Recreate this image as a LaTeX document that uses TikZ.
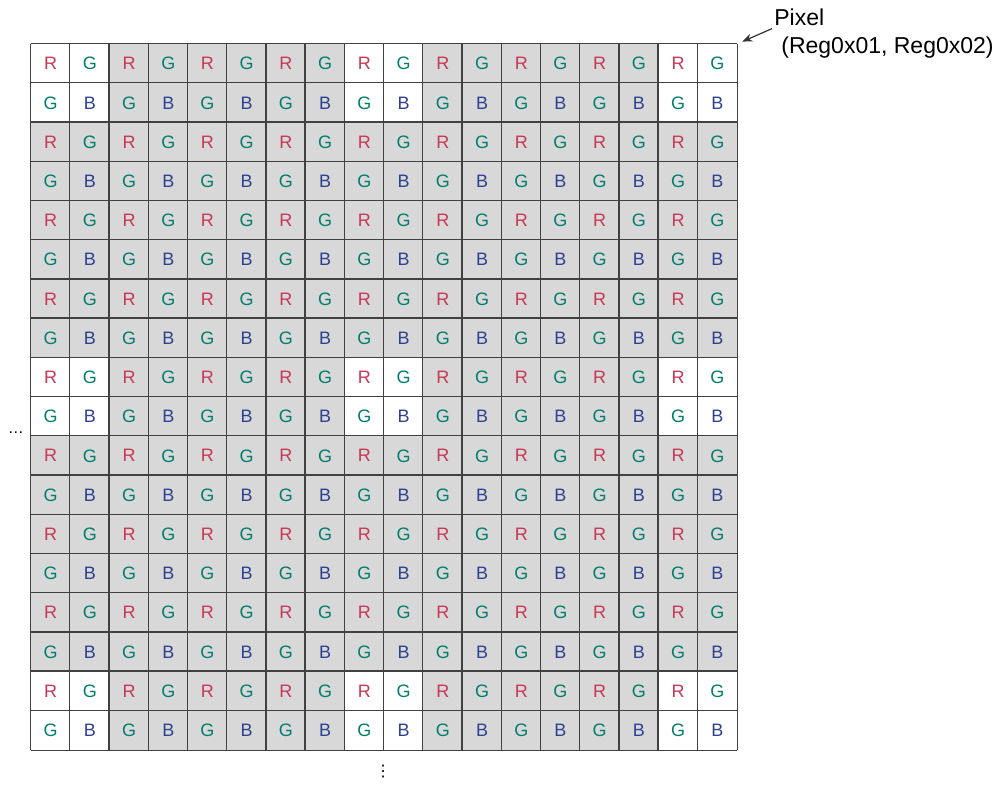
\documentclass[tikz,border=0pt]{standalone}
\usepackage{fontspec}
\setmainfont{Liberation Sans}
\newfontfamily\symfont{DejaVu Sans}
\usetikzlibrary{arrows.meta,positioning,calc}
\definecolor{chR}{RGB}{200,55,85}
\definecolor{chG}{RGB}{0,125,110}
\definecolor{chB}{RGB}{45,65,145}
\definecolor{cFill}{RGB}{216,216,216}
\definecolor{cLine}{RGB}{65,65,65}
\tikzset{
  px/.style={minimum size=19.61pt, inner sep=0pt, font=\fontsize{9}{10}\selectfont},
  gridline/.style={draw=cLine, line width=0.65pt},
  lbl/.style={inner sep=0pt, font=\fontsize{11.5}{14}\selectfont},
  ar/.style={-{Stealth[length=5pt,width=4pt]}, draw=black!80, line width=0.6pt},
}

\begin{document}
\begin{tikzpicture}[x=0.5pt,y=-0.5pt]
\useasboundingbox (0,0) rectangle (1003,785);

% bayer mosaic, 18x18 pixels
\foreach \r in {0,...,17}{
  \foreach \c in {0,...,17}{
    \pgfmathtruncatemacro{\rowm}{mod(\r,8)}
    \pgfmathtruncatemacro{\colm}{mod(\c,8)}
    \pgfmathtruncatemacro{\rowp}{mod(\r,2)}
    \pgfmathtruncatemacro{\colp}{mod(\c,2)}
    \ifnum\rowp=1
      \ifnum\colp=1 \def\ch{B}\else \def\ch{G}\fi
    \else
      \ifnum\colp=1 \def\ch{G}\else \def\ch{R}\fi
    \fi
    \def\bg{cFill}
    \ifnum\rowm<2 \ifnum\colm<2 \def\bg{white}\fi\fi
    \node[px, fill=\bg, text=ch\ch] (p-\r-\c) at (50.61+39.22*\c, 63.61+39.22*\r) {\ch};
  }
}

% cell borders
\foreach \i in {0,...,17}{
  \draw[gridline] (p-0-\i.north west) -- (p-17-\i.south west);
  \draw[gridline] (p-\i-0.north west) -- (p-\i-17.north east);
}
\draw[gridline] (p-0-17.north east) -- (p-17-17.south east);
\draw[gridline] (p-17-0.south west) -- (p-17-17.south east);

% pixel label
\node[lbl, anchor=base west] (pixel) at (774,26) {Pixel};
\node[lbl, anchor=base west] (reg) at (781,54) {(Reg0x01, Reg0x02)};
\draw[ar] ([shift={(-1pt,-1pt)}]pixel.south west) -- ([shift={(2.5pt,1pt)}]p-0-17.north east);

% continuation marks
\node[inner sep=0pt, font=\fontsize{8}{9}\selectfont] (hdots) at (16,433) {\dots};
\node[inner sep=0pt, font=\symfont\fontsize{8}{9}\selectfont] (vdots) at (383,772) {⋮};
\end{tikzpicture}
\end{document}
